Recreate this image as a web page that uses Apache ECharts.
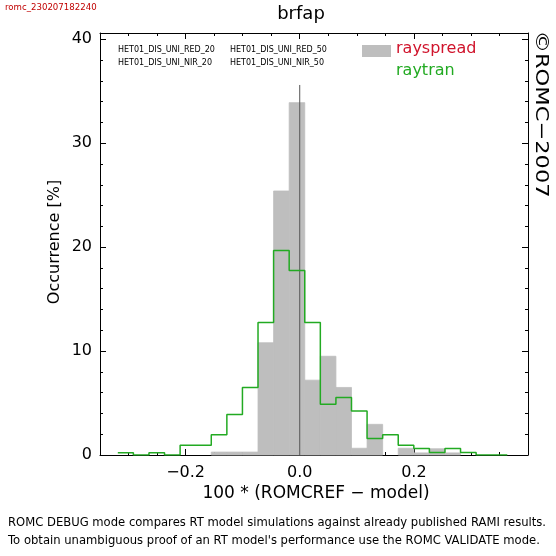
<!DOCTYPE html>
<html><head><meta charset="utf-8">
<script src="https://cdn.jsdelivr.net/npm/echarts@6/dist/echarts.min.js"></script>
<style>html,body{margin:0;padding:0;background:#fff}#c{width:556px;height:556px}</style>
</head><body><div id="c"></div>
<script>
// ---- data ----
const binStart = -0.3188;   // left edge of first histogram bin
const binWidth = 0.0273;    // histogram bin width
const rayspread = [0, 0, 0, 0, 0, 0, 0.28, 0.28, 0.28, 10.8, 25.4, 33.9, 7.2, 9.5, 6.5, 0.65, 2.95, 0, 0.65, 0.2, 0.6, 0.2, 0, 0, 0];
const raytran   = [0.21, 0, 0.21, 0, 0.93, 0.93, 1.96, 3.89, 6.49, 12.75, 19.68, 17.76, 12.75, 4.88, 5.53, 4.24, 1.58, 1.96, 0.93, 0.62, 0.23, 0.62, 0.23, 0, 0];
const refLineTop = 35.6;
const xMajorTicks = [-0.2, 0.0, 0.2];
const xMinorTicks = [-0.35, -0.3, -0.25, -0.2, -0.15, -0.1, -0.05, 0, 0.05, 0.1, 0.15, 0.2, 0.25, 0.3, 0.35, 0.4];
const yMajorTicks = [0, 10, 20, 30, 40];
const yMinorTicks = [0, 2, 4, 6, 8, 10, 12, 14, 16, 18, 20, 22, 24, 26, 28, 30, 32, 34, 36, 38, 40];
const seriesNames = ['rayspread', 'raytran'];
const runLabels = ['HET01_DIS_UNI_RED_20', 'HET01_DIS_UNI_RED_50', 'HET01_DIS_UNI_NIR_20', 'HET01_DIS_UNI_NIR_50'];

const FONT = '"DejaVu Sans", sans-serif';
const GREY = '#bebebe', GREEN = '#22aa22', RED = '#d0142c';
const X_MIN = -0.35, X_MAX = 0.4, Y_MIN = 0, Y_MAX = 40.6;

const chart = echarts.init(document.getElementById('c'), null, {renderer: 'canvas'});

function xAxisDef(pos, major) {
  return {
    type: 'value', position: pos, min: X_MIN, max: X_MAX,
    axisLine: {show: major, onZero: false, lineStyle: {color: '#000', width: 1}},
    axisTick: {show: true, inside: true, length: major ? 6 : 3, customValues: major ? xMajorTicks : xMinorTicks, lineStyle: {color: '#000', width: 1}},
    axisLabel: {show: major && pos === 'bottom', customValues: xMajorTicks, color: '#000', fontSize: 16, fontFamily: FONT, margin: 10,
      formatter: v => v.toFixed(1).replace('-', '\u2212')},
    splitLine: {show: false}
  };
}
function yAxisDef(pos, major) {
  return {
    type: 'value', position: pos, min: Y_MIN, max: Y_MAX,
    axisLine: {show: major, onZero: false, lineStyle: {color: '#000', width: 1}},
    axisTick: {show: true, inside: true, length: major ? 6 : 3, customValues: major ? yMajorTicks : yMinorTicks, lineStyle: {color: '#000', width: 1}},
    axisLabel: {show: major && pos === 'left', customValues: yMajorTicks, color: '#000', fontSize: 16, fontFamily: FONT, margin: 8},
    splitLine: {show: false}
  };
}

const greyData = rayspread.map((v, i) => [binStart + i * binWidth, binStart + (i + 1) * binWidth, v]).filter(d => d[2] > 0);
const greenData = raytran.map((v, i) => [binStart + i * binWidth, v]);
greenData.push([binStart + raytran.length * binWidth, raytran[raytran.length - 1]]);

const option = {
  animation: false,
  backgroundColor: '#fff',
  grid: {left: 100, right: 28, top: 33, bottom: 101, containLabel: false},
  xAxis: [xAxisDef('bottom', true), xAxisDef('bottom', false), xAxisDef('top', true), xAxisDef('top', false)],
  yAxis: [yAxisDef('left', true), yAxisDef('left', false), yAxisDef('right', true), yAxisDef('right', false)],
  series: [
    {
      name: seriesNames[0], type: 'custom', xAxisIndex: 0, yAxisIndex: 0, z: 1,
      data: greyData,
      encode: {x: [0, 1], y: 2},
      renderItem: (params, api) => {
        const p0 = api.coord([api.value(0), api.value(2)]);
        const p1 = api.coord([api.value(1), 0]);
        return {type: 'rect', shape: {x: p0[0], y: p0[1], width: p1[0] - p0[0], height: p1[1] - p0[1]},
          style: {fill: GREY, stroke: GREY, lineWidth: 0.8}};
      }
    },
    {
      name: 'zero', type: 'line', xAxisIndex: 0, yAxisIndex: 0, z: 2, symbol: 'none', silent: true,
      data: [[0, 0], [0, refLineTop]],
      lineStyle: {color: '#555', width: 1}
    },
    {
      name: seriesNames[1], type: 'line', xAxisIndex: 0, yAxisIndex: 0, z: 3, step: 'end', symbol: 'none',
      data: greenData,
      lineStyle: {color: GREEN, width: 1.5}
    }
  ],
  graphic: [
    {type: 'text', x: 5, y: 8, style: {text: 'romc_230207182240', fill: '#c00000', font: '8.6px ' + FONT, verticalAlign: 'middle'}},
    {type: 'text', x: 301, y: 14, style: {text: 'brfap', fill: '#000', font: '18px ' + FONT, align: 'center', verticalAlign: 'middle'}},
    {type: 'text', x: 118, y: 50, style: {text: runLabels[0], fill: '#000', font: '8px ' + FONT, verticalAlign: 'middle'}},
    {type: 'text', x: 230, y: 50, style: {text: runLabels[1], fill: '#000', font: '8px ' + FONT, verticalAlign: 'middle'}},
    {type: 'text', x: 118, y: 63, style: {text: runLabels[2], fill: '#000', font: '8px ' + FONT, verticalAlign: 'middle'}},
    {type: 'text', x: 230, y: 63, style: {text: runLabels[3], fill: '#000', font: '8px ' + FONT, verticalAlign: 'middle'}},
    {type: 'rect', shape: {x: 362, y: 45, width: 29, height: 12}, style: {fill: GREY}},
    {type: 'text', x: 396, y: 49, style: {text: seriesNames[0], fill: RED, font: '16px ' + FONT, verticalAlign: 'middle'}},
    {type: 'text', x: 396, y: 71, style: {text: seriesNames[1], fill: GREEN, font: '16px ' + FONT, verticalAlign: 'middle'}},
    {type: 'text', x: 541, y: 114, rotation: -Math.PI / 2, scaleX: 1.25, style: {text: '\u00A9ROMC\u22122007', fill: '#000', font: '18px ' + FONT, align: 'center', verticalAlign: 'middle'}},
    {type: 'text', x: 55, y: 242, rotation: Math.PI / 2, style: {text: 'Occurrence [%]', fill: '#000', font: '16px ' + FONT, align: 'center', verticalAlign: 'middle'}},
    {type: 'text', x: 316, y: 494, style: {text: '100 * (ROMCREF \u2212 model)', fill: '#000', font: '17px ' + FONT, align: 'center', verticalAlign: 'middle'}},
    {type: 'text', x: 8, y: 523, style: {text: 'ROMC DEBUG mode compares RT model simulations against already published RAMI results.', fill: '#000', font: '11.6px ' + FONT, verticalAlign: 'middle'}},
    {type: 'text', x: 8, y: 541, style: {text: 'To obtain unambiguous proof of an RT model\'s performance use the ROMC VALIDATE mode.', fill: '#000', font: '11.6px ' + FONT, verticalAlign: 'middle'}}
  ]
};
chart.setOption(option);
</script>
</body></html>
